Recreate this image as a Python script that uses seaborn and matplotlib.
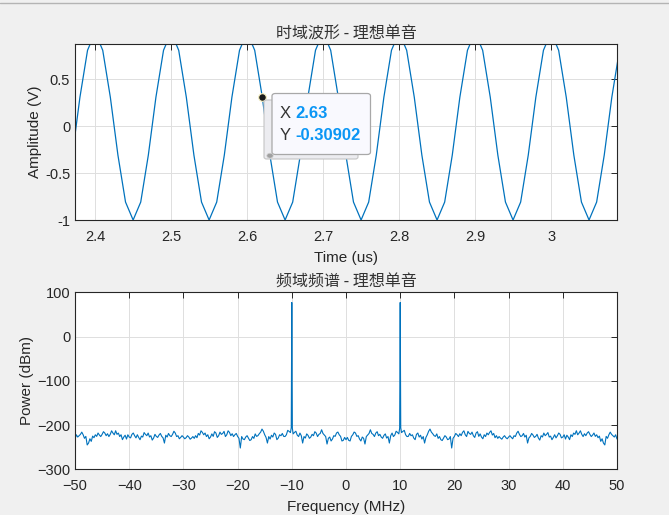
import numpy as np
import pandas as pd
import matplotlib
matplotlib.use("Agg")
import matplotlib.pyplot as plt
import seaborn as sns
from matplotlib.patches import FancyBboxPatch, Circle
from matplotlib.lines import Line2D


# ===============================
# DATA
# ===============================
# time domain: 10 MHz tone sampled every 0.01 us
t_start_us = 2.30
t_step_us = 0.01
one_period_v = [1.0, 0.809, 0.309, -0.309, -0.809, -1.0, -0.809, -0.309, 0.309, 0.809]
n_periods = 8

# data tip shown on the top plot
tip_marker = (2.62, 0.309)
tip_x_text = "2.63"
tip_y_text = "-0.30902"

# spectrum, positive half (it is mirrored for negative frequencies)
# values on the 0.5 MHz grid: 0, 0.5, ... 50
spec_step_mhz = 0.5
spec_dbm_pos = [
    -233.1, -234.6, -225.6, -215.8, -225.6, -231.6, -227.1, -242.9, -222.6, -210.6,   # 0 .. 4.5
    -221.1, -218.1, -224.1, -227.1, -223.4, -229.4, -240.7, -218.1, -222.6, -216.6,   # 5 .. 9.5
    77.0, -214.3, -221.9, -225.6, -224.1, -229.4, -221.1, -227.1, -231.6, -240.7,     # 10 .. 14.5
    -221.9, -209.1, -219.6, -225.6, -230.1, -233.1, -229.4, -227.1, -231.6, -251.9,   # 15 .. 19.5
    -225.6, -221.9, -219.6, -216.6, -221.9, -214.3, -221.1, -224.1, -218.1, -225.6,   # 20 .. 24.5
    -227.1, -221.9, -218.1, -216.6, -222.6, -228.6, -230.1, -229.4, -227.1, -228.6,   # 25 .. 29.5
    -227.1, -227.9, -224.1, -218.1, -221.1, -224.1, -227.1, -240.7, -225.6, -222.6,   # 30 .. 34.5
    -225.6, -229.4, -224.1, -218.1, -221.1, -227.1, -233.1, -221.9, -224.1, -221.1,   # 35 .. 39.5
    -227.1, -231.6, -227.1, -221.9, -218.1, -212.8, -218.1, -221.1, -219.6, -218.1,   # 40 .. 44.5
    -221.1, -222.6, -225.6, -228.6, -236.9, -240.7, -225.6, -221.9, -221.1, -227.1,   # 45 .. 49.5
    -231.6,                                                                            # 50
]
# values in between: 0.25, 0.75, ... 49.75
spec_dbm_mid = [
    -228, -236, -222, -218, -224, -236, -230, -226, -219, -219,   # 0.25 .. 4.75
    -226, -215, -221, -230, -220, -226, -224, -226, -214, -220,   # 5.25 .. 9.75
    -217, -212, -226, -219, -222, -233, -218, -223, -226, -228,   # 10.25 .. 14.75
    -214, -216, -224, -220, -226, -235, -224, -233, -226, -230,   # 15.25 .. 19.75
    -219, -226, -224, -213, -226, -219, -216, -228, -215, -220,   # 20.25 .. 24.75
    -231, -226, -222, -213, -219, -224, -226, -232, -224, -231,   # 25.25 .. 29.75
    -224, -231, -226, -214, -226, -219, -223, -229, -219, -228,   # 30.25 .. 34.75
    -221, -234, -227, -224, -217, -225, -228, -229, -218, -229,   # 35.25 .. 39.75
    -222, -223, -233, -226, -221, -222, -213, -226, -224, -215,   # 40.25 .. 44.75
    -226, -218, -222, -225, -231, -245, -230, -216, -224, -222,   # 45.25 .. 49.75
]
# shoulders right beside the tone
shoulder_mhz = [9.9, 10.1]
shoulder_dbm = [-207.0, -206.0]

time_title = "时域波形 - 理想单音"
freq_title = "频域频谱 - 理想单音"


# ===============================
# STYLE
# ===============================
sns.set_theme(style="whitegrid")
plt.rcParams['font.family'] = ['Liberation Sans', 'Noto Sans CJK SC', 'DejaVu Sans']
plt.rcParams['font.size'] = 10
plt.rcParams['axes.edgecolor'] = '#262626'
plt.rcParams['axes.linewidth'] = 0.8
plt.rcParams['grid.color'] = '#dedede'
plt.rcParams['grid.linewidth'] = 0.7
plt.rcParams['xtick.color'] = '#262626'
plt.rcParams['ytick.color'] = '#262626'
plt.rcParams['axes.labelcolor'] = '#262626'

LINE_COLOR = '#0072BD'
BG = '#f0f0f0'
W, H = 669, 515
CJK = ['Noto Sans CJK SC', 'DejaVu Sans']


def fx(px):
    return px / W


def fy(py):
    return 1 - py / H


def style_axes(ax):
    ax.set_facecolor('white')
    for s in ax.spines.values():
        s.set_visible(True)
        s.set_color('#262626')
        s.set_linewidth(0.8)
    ax.tick_params(direction='in', length=4, width=0.7, top=True, right=True,
                   labelsize=10.5, colors='#262626')
    ax.tick_params(axis='x', pad=7)
    ax.tick_params(axis='y', pad=3.5)
    ax.tick_params(labeltop=False, labelright=False)
    ax.grid(True, color='#dedede', linewidth=0.7)


# build frames
n_samp = len(one_period_v) * n_periods + 1
time_us = np.round(t_start_us + t_step_us * np.arange(n_samp), 2)
amp_v = np.tile(one_period_v, n_periods + 1)[:n_samp]
df_time = pd.DataFrame({'t': time_us, 'v': amp_v})

freq_grid = np.round(spec_step_mhz * np.arange(len(spec_dbm_pos)), 2)
freq_mid = np.round(spec_step_mhz * np.arange(len(spec_dbm_mid)) + spec_step_mhz / 2, 2)
f_half = np.concatenate([freq_grid, freq_mid, shoulder_mhz])
p_half = np.concatenate([spec_dbm_pos, spec_dbm_mid, shoulder_dbm])
order = np.argsort(f_half)
f_half, p_half = f_half[order], p_half[order]
freq_all = np.concatenate([-f_half[::-1][:-1], f_half])
pow_all = np.concatenate([p_half[::-1][:-1], p_half])
df_spec = pd.DataFrame({'f': freq_all, 'p': pow_all})


# ===============================
# FIGURE
# ===============================
fig = plt.figure(figsize=(W / 100, H / 100), dpi=100, facecolor=BG)
fig.add_artist(Line2D([0, 1], [fy(2.5), fy(2.5)], transform=fig.transFigure,
                      color='#b4b4b4', linewidth=1.0))

# ---- time domain ----
ax1 = fig.add_axes([fx(75), fy(220), fx(617) - fx(75), fy(44) - fy(220)])
sns.lineplot(data=df_time, x='t', y='v', ax=ax1, color=LINE_COLOR,
             linewidth=0.9, estimator=None, sort=False)
ax1.set_xlim(2.3735, 3.0868)
ax1.set_ylim(-1, 0.876)
ax1.set_xticks([2.4, 2.5, 2.6, 2.7, 2.8, 2.9, 3.0])
ax1.set_xticklabels(['2.4', '2.5', '2.6', '2.7', '2.8', '2.9', '3'])
ax1.set_yticks([-1, -0.5, 0, 0.5])
ax1.set_yticklabels(['-1', '-0.5', '0', '0.5'])
ax1.set_xlabel('Time (us)', fontsize=11, labelpad=5)
ax1.set_ylabel('Amplitude (V)', fontsize=11, labelpad=2)
ax1.set_title(time_title, fontsize=11.5, pad=4, color='#333333', family=CJK)
style_axes(ax1)

# data tip
shadow = FancyBboxPatch((fx(264), fy(159)), fx(358) - fx(264), fy(100) - fy(159),
                        boxstyle='round,pad=0,rounding_size=0.004',
                        transform=fig.transFigure, facecolor='#ececf0',
                        edgecolor='#c4c4c4', linewidth=0.8, zorder=5)
fig.add_artist(shadow)
box = FancyBboxPatch((fx(272), fy(154.5)), fx(370.5) - fx(272), fy(93.5) - fy(154.5),
                     boxstyle='round,pad=0,rounding_size=0.005',
                     transform=fig.transFigure, facecolor='#f9f9fe',
                     edgecolor='#a8a8a8', linewidth=0.9, zorder=6)
fig.add_artist(box)
fig.add_artist(Circle((fx(270), fy(155.7)), 3.2 / W, transform=fig.transFigure,
                      facecolor='#a0a0a0', edgecolor='#d0d0d0', linewidth=0.5, zorder=7))
ax1.plot([tip_marker[0]], [tip_marker[1]], 'o', markersize=5.5, color='#1a1a1a',
         markeredgecolor='#f5f0c0', markeredgewidth=0.8, zorder=8, clip_on=False)
fig.text(fx(279.5), fy(113.5), 'X', fontsize=12, color='#333333', va='center', ha='left', zorder=9)
fig.text(fx(295.5), fy(113.5), tip_x_text, fontsize=12, color='#0a96f5', fontweight='bold',
         va='center', ha='left', zorder=9)
fig.text(fx(279.5), fy(135.5), 'Y', fontsize=12, color='#333333', va='center', ha='left', zorder=9)
fig.text(fx(295.5), fy(135.5), tip_y_text, fontsize=12, color='#0a96f5', fontweight='bold',
         va='center', ha='left', zorder=9)

# ---- frequency domain ----
ax2 = fig.add_axes([fx(75), fy(469.3), fx(617) - fx(75), fy(292.3) - fy(469.3)])
sns.lineplot(data=df_spec, x='f', y='p', ax=ax2, color=LINE_COLOR,
             linewidth=0.8, estimator=None, sort=False)
ax2.set_xlim(-50, 50)
ax2.set_ylim(-300, 100)
ax2.set_xticks(np.arange(-50, 51, 10))
ax2.set_yticks([-300, -200, -100, 0, 100])
ax2.set_xlabel('Frequency (MHz)', fontsize=11, labelpad=5)
ax2.set_ylabel('Power (dBm)', fontsize=11, labelpad=2)
ax2.set_title(freq_title, fontsize=11.5, pad=4, color='#333333', family=CJK)
style_axes(ax2)

fig.savefig('out.png', dpi=100, facecolor=BG)
plt.close(fig)
